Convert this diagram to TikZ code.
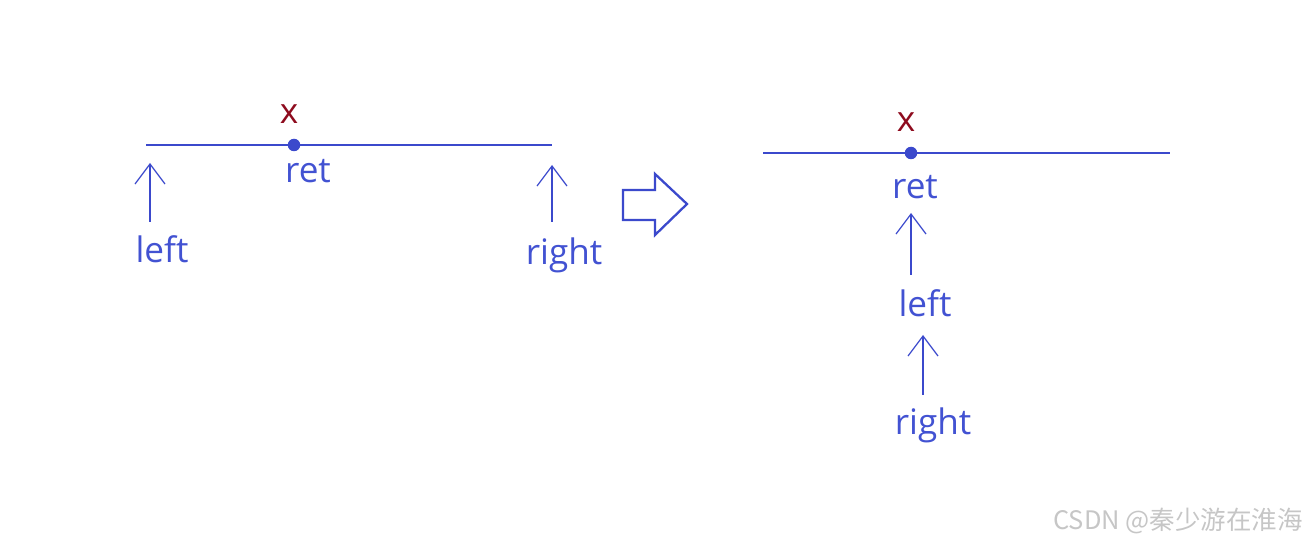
\documentclass[tikz,border=0pt]{standalone}
\usepackage{fontspec}
\setmainfont{Open Sans}
\newfontfamily\cjkfont{Noto Sans CJK SC}
\usetikzlibrary{arrows.meta,positioning}
\usepackage{xcolor}
\definecolor{penblue}{HTML}{3B49CC}
\definecolor{txtblue}{HTML}{4252D2}
\definecolor{darkred}{HTML}{8E0B1E}
\tikzset{
  txtlabel/.style={text=txtblue, font=\fontsize{20}{22}\selectfont, inner sep=0pt},
  xlabel/.style={txtlabel, text=darkred},
  seg/.style={draw=penblue, line width=1.3pt},
  dot/.style={circle, fill=penblue, inner sep=0pt, minimum size=2.5mm},
  ptr/.style={draw=penblue, line width=1.2pt, -{Straight Barb[length=4mm, width=6mm, line width=0.7pt]}},
  bigarrow/.style={draw=penblue, line width=1.3pt, fill=white},
  wmark/.style={text=gray!45, font=\cjkfont\fontsize{14.5}{16}\selectfont, inner sep=0pt}
}

\begin{document}
\begin{tikzpicture}[x=0.02cm, y=-0.02cm]
  \useasboundingbox (0,0) rectangle (1307,543);
  % before
  \coordinate (l1) at (146,145);
  \coordinate (r1) at (552,145);
  \draw[seg] (l1) -- (r1);
  \node[dot] (ret1) at (294,145) {};
  \node[xlabel] (x1) at (289,114) {x};
  \node[txtlabel] (retlab1) at (308,171) {ret};
  \node[txtlabel] (left1) at (162,249) {left};
  \node[txtlabel] (right1) at (564,255) {right};
  \coordinate (lb1) at (150,222);
  \coordinate (lt1) at (150,163);
  \coordinate (rb1) at (552,222);
  \coordinate (rt1) at (552,165);
  \draw[ptr] (lb1) -- (lt1);
  \draw[ptr] (rb1) -- (rt1);
  % transform arrow
  \draw[bigarrow] (623,190) -- (655,190) -- (655,174) -- (687,204) -- (655,235)
    -- (655,220) -- (623,220) -- cycle;
  % after
  \coordinate (l2) at (763,153);
  \coordinate (r2) at (1170,153);
  \draw[seg] (l2) -- (r2);
  \node[dot] (ret2) at (911,153) {};
  \node[xlabel] (x2) at (906,122) {x};
  \node[txtlabel] (retlab2) at (915,187) {ret};
  \node[txtlabel] (left2) at (925,303) {left};
  \node[txtlabel] (right2) at (933,425) {right};
  \coordinate (lb2) at (911,275);
  \coordinate (lt2) at (911,213);
  \coordinate (rb2) at (923,395);
  \coordinate (rt2) at (923,335);
  \draw[ptr] (lb2) -- (lt2);
  \draw[ptr] (rb2) -- (rt2);
  % watermark
  \node[wmark, anchor=east] (wm) at (1303,521) {CSDN @秦少游在淮海};
\end{tikzpicture}
\end{document}
